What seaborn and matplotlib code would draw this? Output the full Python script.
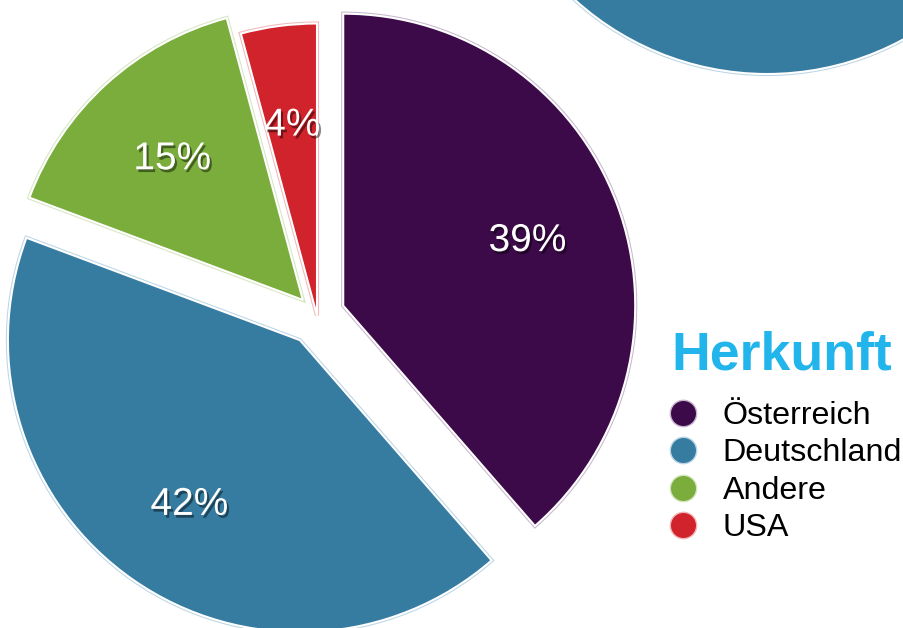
import matplotlib
matplotlib.use("Agg")
import matplotlib.pyplot as plt
import matplotlib.patheffects as pe
from matplotlib.lines import Line2D
from matplotlib.patches import Circle
import seaborn as sns

# Herkunft der Besucher
laender = ["Österreich", "Deutschland", "Andere", "USA"]
anteile = [38.6, 42.1, 15.1, 4.2]
farben = ["#3d0a49", "#367ca1", "#7aad3c", "#d0232b"]
rand = ["#c9b7cf", "#bcd6e6", "#d6e6c2", "#f2b8bb"]
# Versatz in Pixeln (Achse in Pixel-Einheiten)
explode = [28, 30, 21, 0]

sns.set_theme(style="white")
plt.rcParams["font.family"] = ["Liberation Sans", "DejaVu Sans"]

fig = plt.figure(figsize=(9.04, 6.28), dpi=100)
ax = fig.add_axes([0, 0, 1, 1])

# angeschnittener Kreis oben rechts
deko = Circle((767, 840), 286, facecolor=farben[1], edgecolor="white", lw=1.5,
              path_effects=[pe.Stroke(linewidth=3, foreground=rand[1]), pe.Normal()])
ax.add_patch(deko)

wedges, texts, autotexts = ax.pie(
    anteile, colors=sns.color_palette(farben), explode=explode,
    startangle=90, counterclock=False, center=(317, 312.5), radius=292,
    autopct=lambda p: f"{p:.0f}%", pctdistance=0.67,
    wedgeprops=dict(edgecolor="white", linewidth=1.5),
    textprops=dict(color="white", fontsize=28),
)
for w, c in zip(wedges, rand):
    w.set_path_effects([pe.Stroke(linewidth=3, foreground=c), pe.Normal()])
for t in autotexts:
    x, y = t.get_position()
    t.set_position((x + 1, y - 4))
    t.set_path_effects([pe.SimplePatchShadow(offset=(1.5, -2), shadow_rgbFace="black", alpha=0.45),
                        pe.Normal()])

ax.set_xlim(0, 904)
ax.set_ylim(0, 628)
ax.set_aspect("equal")
ax.axis("off")

fig.text(671 / 904, 1 - 369.5 / 628, "Herkunft", fontsize=38.6, fontweight="bold",
         color="#22b5ec", va="baseline", ha="left")

handles = [Line2D([], [], marker="o", linestyle="", markersize=19,
                  markerfacecolor=f, markeredgecolor=r, markeredgewidth=1)
           for f, r in zip(farben, rand)]
leg = ax.legend(handles, laender, loc="upper left",
                bbox_to_anchor=(667 / 904, 1 - 401 / 628), frameon=False,
                fontsize=23.2, handlelength=1.0, handletextpad=0.73,
                labelspacing=0.23, borderpad=0, borderaxespad=0, labelcolor="black")

fig.savefig("out.png", dpi=100)
